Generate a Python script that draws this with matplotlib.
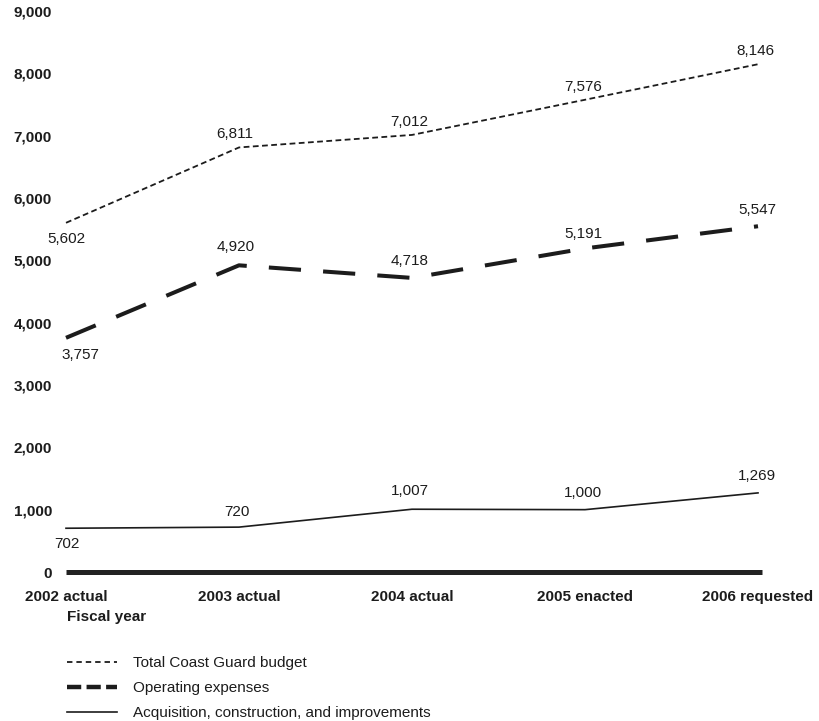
import matplotlib
matplotlib.use("Agg")
import matplotlib.pyplot as plt
from matplotlib.lines import Line2D

plt.rcParams['font.family'] = ['Liberation Sans', 'DejaVu Sans']

categories = ["2002 actual", "2003 actual", "2004 actual", "2005 enacted", "2006 requested"]
total_budget = [5602, 6811, 7012, 7576, 8146]
operating = [3757, 4920, 4718, 5191, 5547]
acquisition = [702, 720, 1007, 1000, 1269]
y_ticks = [0, 1000, 2000, 3000, 4000, 5000, 6000, 7000, 8000, 9000]
series_names = ["Total Coast Guard budget", "Operating expenses",
                "Acquisition, construction, and improvements"]

W, H = 820, 721
fig = plt.figure(figsize=(W / 100, H / 100), dpi=100)
fig.patch.set_facecolor("white")
ax = fig.add_axes([66 / W, 1 - 572 / H, (758 - 66) / W, (572 - 11) / H])
ax.set_xlim(0, len(categories) - 1)
ax.set_ylim(0, 9000)
for s in ax.spines.values():
    s.set_visible(False)

ink = "#1c1c1c"
x = list(range(len(categories)))

ax.plot(x, total_budget, color=ink, lw=1.3, dashes=(3.2, 1.9), clip_on=False)
ax.plot(x, operating, color=ink, lw=2.9, dashes=(8, 5.5), clip_on=False)
ax.plot(x, acquisition, color=ink, lw=1.2, clip_on=False)
ax.axhline(0, xmin=0, xmax=1.006, color="#222222", lw=3.6, clip_on=False, solid_capstyle="butt")

ax.set_yticks(y_ticks)
ax.set_yticklabels([f"{v:,}" for v in y_ticks], fontweight="bold", fontsize=11, color=ink)
ax.set_xticks(x)
ax.set_xticklabels(categories, fontweight="bold", fontsize=11, color=ink)
ax.tick_params(axis="y", length=0, pad=10)
ax.tick_params(axis="x", length=0, pad=13)

fs = 11
total_off = [(0, -16), (-4, 13), (-3, 13), (-2, 13), (-3, 13)]
oper_off = [(14, -17), (-3, 18), (-2, 17), (-2, 14), (-1, 16)]
acq_off = [(1, -16), (-2, 15), (-2, 18), (-2, 17), (-1, 17)]
for vals, offs in ((total_budget, total_off), (operating, oper_off), (acquisition, acq_off)):
    for xi, v, o in zip(x, vals, offs):
        ax.annotate(f"{v:,}", (xi, v), xytext=o, textcoords="offset pixels",
                    ha="center", va="center", fontsize=fs, color=ink)

fig.text(67 / W, 1 - 617 / H, "Fiscal year", fontweight="bold", fontsize=11,
         ha="left", va="center", color=ink)

handles = [
    Line2D([], [], color=ink, lw=1.3, dashes=(3.0, 2.2)),
    Line2D([], [], color=ink, lw=3.2, dashes=(3.2, 1.2)),
    Line2D([], [], color=ink, lw=1.2),
]
fig.legend(handles, series_names, loc="upper left",
           bbox_to_anchor=(67 / W, 1 - 656 / H), frameon=False,
           borderpad=0, borderaxespad=0, handlelength=3.3, handletextpad=1.05,
           labelspacing=0.72, fontsize=11, labelcolor=ink)

fig.savefig("out.png", dpi=100, facecolor="white")
